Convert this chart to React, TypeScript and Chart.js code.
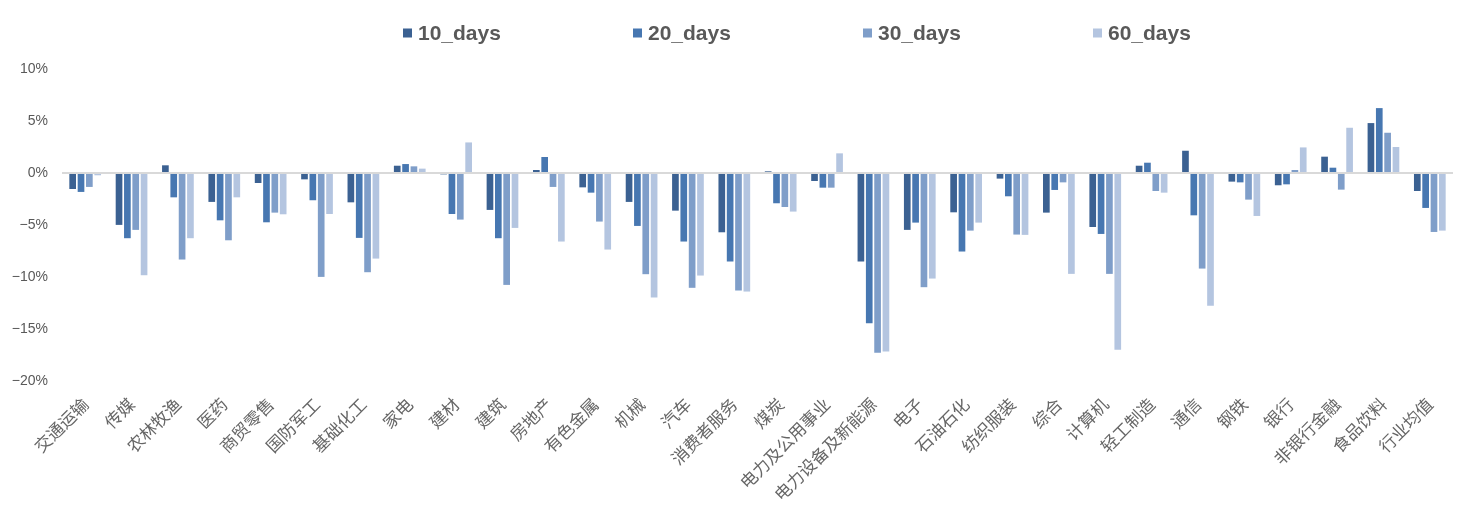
import React, { useEffect, useRef } from "react";
import { Chart, registerables } from "chart.js";

Chart.register(...registerables);

const categories = [
  "交通运输", "传媒", "农林牧渔", "医药", "商贸零售", "国防军工", "基础化工", "家电", "建材", "建筑",
  "房地产", "有色金属", "机械", "汽车", "消费者服务", "煤炭", "电力及公用事业", "电力设备及新能源", "电子", "石油石化",
  "纺织服装", "综合", "计算机", "轻工制造", "通信", "钢铁", "银行", "非银行金融", "食品饮料", "行业均值",
];

const days10 = [
  -1.54, -4.99, 0.74, -2.78, -0.96, -0.61, -2.82, 0.70, -0.13, -3.55,
  0.29, -1.38, -2.78, -3.62, -5.70, 0.16, -0.77, -8.51, -5.47, -3.78,
  -0.54, -3.81, -5.19, 0.70, 2.14, -0.83, -1.18, 1.57, 4.80, -1.73,
];
const days20 = [
  -1.82, -6.27, -2.34, -4.55, -4.74, -2.62, -6.24, 0.86, -3.94, -6.27,
  1.54, -1.89, -5.09, -6.59, -8.51, -2.91, -1.41, -14.44, -4.77, -7.55,
  -2.24, -1.63, -5.86, 0.99, -4.07, -0.90, -1.09, 0.51, 6.24, -3.36,
];
const days30 = [
  -1.34, -5.47, -8.32, -6.47, -3.81, -9.99, -9.54, 0.64, -4.48, -10.76,
  -1.34, -4.67, -9.73, -11.04, -11.30, -3.27, -1.41, -17.29, -10.98, -5.54,
  -5.92, -0.90, -9.70, -1.73, -9.19, -2.56, 0.29, -1.60, 3.87, -5.67,
];
const days60 = [
  -0.22, -9.83, -6.27, -2.34, -3.97, -3.94, -8.23, 0.42, 2.94, -5.28,
  -6.59, -7.36, -11.97, -9.86, -11.40, -3.71, 1.89, -17.16, -10.15, -4.77,
  -5.95, -9.70, -17.0, -1.89, -12.77, -4.13, 2.46, 4.35, 2.50, -5.54,
];

const seriesLabels = ["10_days", "20_days", "30_days", "60_days"];
const seriesColors = ["#3b6192", "#4777b1", "#7f9ec9", "#b4c5e0"];

const yMin = -20;
const yMax = 10;
const yStep = 5;

const legendPlugin = {
  id: "customLegend",
  afterDraw(chart: any) {
    const ctx = chart.ctx;
    const startX = 395;
    const spacing = 230;
    const y = 25;
    ctx.save();
    ctx.font = "bold 21px 'Liberation Sans', Arial, sans-serif";
    ctx.textBaseline = "middle";
    ctx.textAlign = "left";
    chart.data.datasets.forEach((ds: any, i: number) => {
      const x = startX + i * spacing;
      ctx.fillStyle = ds.backgroundColor;
      ctx.fillRect(x, y - 4.5, 9, 9);
      ctx.fillStyle = "#595959";
      ctx.fillText(ds.label, x + 15, y + 1);
    });
    ctx.restore();
  },
};

export default function App() {
  const canvasRef = useRef<HTMLCanvasElement | null>(null);

  useEffect(() => {
    if (!canvasRef.current) return;
    const all = [days10, days20, days30, days60];
    const chart = new Chart(canvasRef.current, {
      type: "bar",
      data: {
        labels: categories,
        datasets: all.map((d, i) => ({
          label: seriesLabels[i],
          data: d,
          backgroundColor: seriesColors[i],
          borderWidth: 0,
          categoryPercentage: 0.72,
          barPercentage: 0.8,
        })),
      },
      options: {
        animation: false,
        responsive: true,
        maintainAspectRatio: false,
        layout: { padding: { top: 61, left: 4, right: 6, bottom: 0 } },
        plugins: {
          legend: { display: false },
          tooltip: { enabled: false },
        },
        scales: {
          x: {
            grid: { display: false, drawTicks: false },
            border: { display: false },
            afterFit: (scale: any) => {
              scale.paddingLeft = 0;
              scale.paddingRight = 0;
              scale.height = 121;
            },
            ticks: {
              autoSkip: false,
              maxRotation: 45,
              minRotation: 45,
              color: "#666666",
              font: { family: "'Noto Sans CJK SC', sans-serif", size: 17 },
              padding: 13,
            },
          },
          y: {
            min: yMin,
            max: yMax,
            border: { display: false },
            afterFit: (scale: any) => {
              scale.width = 50;
            },
            grid: {
              drawTicks: false,
              color: (c: any) => (c.tick && c.tick.value === 0 ? "#d9d9d9" : "rgba(0,0,0,0)"),
              lineWidth: 2,
            },
            ticks: {
              stepSize: yStep,
              padding: 14,
              color: "#595959",
              font: { family: "'Liberation Sans', Arial, sans-serif", size: 14 },
              callback: (v: any) => (Number(v) < 0 ? "−" : "") + Math.abs(Number(v)) + "%",
            },
          },
        },
      },
      plugins: [legendPlugin],
    });
    return () => chart.destroy();
  }, []);

  return (
    <div style={{ width: 1451, height: 494, position: "relative" }}>
      <canvas ref={canvasRef} />
    </div>
  );
}
